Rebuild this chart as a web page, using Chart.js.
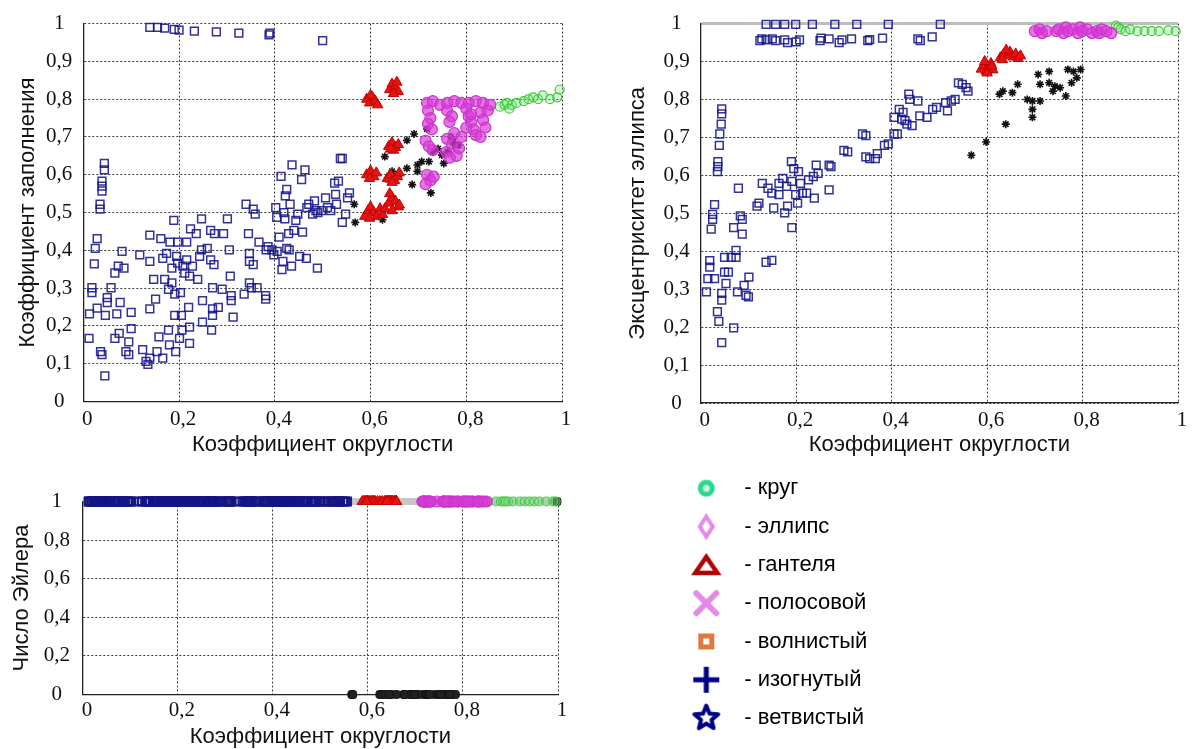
<!DOCTYPE html>
<html lang="ru">
<head>
<meta charset="utf-8">
<title>Признаки формы объектов</title>
<script src="https://cdn.jsdelivr.net/npm/chart.js"></script>
<style>
  html, body { margin: 0; padding: 0; background: #fff; overflow: hidden; }
  body { width: 1192px; height: 749px; position: relative; }
  canvas { position: absolute; }
</style>
</head>
<body>
<canvas id="fillChart" width="590" height="460" style="left:0;top:0"></canvas>
<canvas id="eccChart" width="592" height="460" style="left:600px;top:0"></canvas>
<canvas id="eulerChart" width="590" height="282" style="left:0;top:470px"></canvas>
<canvas id="legendChart" width="500" height="300" style="left:663px;top:461px"></canvas>
<script>
// tick labels
const roundnessTicks = ['0', '0,2', '0,4', '0,6', '0,8', '1'];
const tenthTicks = ['0', '0,1', '0,2', '0,3', '0,4', '0,5', '0,6', '0,7', '0,8', '0,9', '1'];
const eulerTicks = ['0', '0,2', '0,4', '0,6', '0,8', '1'];

// chart 1: [коэффициент округлости, коэффициент заполнения]
const blueFill = [
  [0.139,0.99],[0.155,0.99],[0.17,0.988],[0.19,0.985],[0.2,0.983],[0.232,0.98],[0.278,0.978],[0.325,0.975],[0.388,0.97],[0.39,0.975],[0.5,0.955],
  [0.044,0.63],[0.044,0.613],[0.039,0.583],[0.039,0.57],[0.039,0.557],[0.035,0.522],[0.035,0.509],
  [0.029,0.431],[0.025,0.405],[0.023,0.364],[0.018,0.301],[0.018,0.288],[0.013,0.232],[0.029,0.247],[0.012,0.167],[0.036,0.132],[0.039,0.124],
  [0.045,0.068],[0.046,0.228],[0.05,0.275],[0.05,0.262],[0.058,0.301],[0.066,0.34],[0.073,0.358],[0.081,0.397],[0.085,0.353],[0.07,0.232],
  [0.077,0.262],[0.066,0.167],[0.075,0.18],[0.089,0.132],[0.095,0.124],[0.095,0.158],[0.1,0.193],[0.1,0.236],
  [0.118,0.388],[0.124,0.137],[0.131,0.106],[0.135,0.098],[0.139,0.115],[0.139,0.245],[0.139,0.371],[0.139,0.44],[0.147,0.323],[0.151,0.271],
  [0.154,0.132],[0.158,0.171],[0.162,0.431],[0.166,0.379],[0.166,0.115],[0.17,0.323],[0.174,0.392],[0.178,0.189],[0.178,0.297],[0.18,0.15],
  [0.181,0.422],[0.185,0.353],[0.185,0.314],[0.189,0.479],[0.191,0.228],[0.191,0.284],[0.193,0.132],[0.195,0.384],[0.197,0.366],[0.197,0.422],
  [0.201,0.167],[0.203,0.288],[0.205,0.228],[0.206,0.189],[0.208,0.358],[0.212,0.34],[0.216,0.422],[0.216,0.375],[0.22,0.249],[0.222,0.332],
  [0.222,0.197],[0.222,0.154],[0.224,0.457],[0.228,0.358],[0.236,0.444],[0.239,0.323],[0.243,0.384],[0.247,0.483],[0.247,0.401],[0.249,0.267],
  [0.249,0.21],[0.259,0.405],[0.266,0.453],[0.266,0.375],[0.268,0.189],[0.27,0.245],[0.27,0.301],[0.27,0.228],[0.273,0.362],[0.274,0.444],
  [0.282,0.249],[0.29,0.297],[0.293,0.444],[0.301,0.483],[0.305,0.401],[0.307,0.332],[0.309,0.28],[0.309,0.267],[0.313,0.223],
  [0.336,0.284],[0.34,0.522],[0.345,0.444],[0.347,0.392],[0.347,0.371],[0.347,0.314],[0.351,0.301],[0.355,0.362],[0.355,0.509],[0.359,0.496],
  [0.363,0.301],[0.367,0.422],[0.381,0.271],[0.381,0.28],[0.382,0.401],[0.386,0.41],[0.394,0.401],[0.398,0.388],[0.402,0.513],[0.404,0.487],
  [0.405,0.397],[0.409,0.435],[0.413,0.596],[0.415,0.349],[0.417,0.371],[0.419,0.5],[0.421,0.483],[0.422,0.544],[0.425,0.561],[0.425,0.405],
  [0.429,0.444],[0.43,0.401],[0.432,0.522],[0.435,0.358],[0.436,0.626],[0.44,0.453],[0.444,0.479],[0.448,0.496],[0.452,0.384],[0.456,0.587],
  [0.458,0.448],[0.463,0.613],[0.466,0.379],[0.467,0.513],[0.471,0.522],[0.479,0.496],[0.483,0.531],[0.486,0.505],[0.489,0.353],[0.49,0.5],
  [0.498,0.505],[0.506,0.539],[0.51,0.513],[0.517,0.505],[0.525,0.578],[0.527,0.548],[0.529,0.522],[0.533,0.583],[0.537,0.643],[0.541,0.643],
  [0.541,0.474],[0.548,0.496],[0.552,0.539],[0.556,0.552]
];
const redFill = [
  [0.592,0.8],[0.598,0.79],[0.604,0.805],[0.61,0.795],[0.615,0.785],[0.6,0.81],
  [0.64,0.825],[0.645,0.84],[0.65,0.83],[0.655,0.845],[0.658,0.82],[0.648,0.815],
  [0.638,0.675],[0.645,0.685],[0.652,0.672],[0.658,0.68],[0.648,0.665],[0.642,0.668],
  [0.592,0.6],[0.6,0.61],[0.607,0.595],[0.612,0.605],[0.598,0.59],
  [0.635,0.59],[0.642,0.6],[0.65,0.585],[0.656,0.595],[0.645,0.58],[0.66,0.605],
  [0.588,0.49],[0.595,0.505],[0.6,0.515],[0.607,0.5],[0.613,0.49],[0.62,0.51],[0.598,0.485],[0.625,0.495],
  [0.63,0.51],[0.638,0.525],[0.645,0.54],[0.652,0.53],[0.658,0.515],[0.645,0.505],[0.64,0.55],[0.66,0.52]
];
const magentaFill = [
  [0.718,0.79],[0.73,0.795],[0.745,0.785],[0.76,0.79],[0.775,0.795],[0.79,0.79],[0.805,0.79],[0.82,0.795],[0.835,0.79],[0.85,0.785],
  [0.72,0.77],[0.725,0.75],[0.72,0.735],[0.728,0.72],[0.715,0.69],[0.722,0.675],[0.73,0.665],[0.718,0.6],[0.725,0.585],[0.715,0.575],[0.732,0.595],
  [0.76,0.77],[0.77,0.755],[0.765,0.74],[0.775,0.71],[0.76,0.695],[0.77,0.68],[0.758,0.66],[0.766,0.645],[0.78,0.65],[0.785,0.67],[0.79,0.7],
  [0.8,0.775],[0.805,0.755],[0.81,0.74],[0.815,0.72],[0.82,0.705],[0.83,0.765],[0.835,0.745],[0.84,0.725],[0.845,0.77],[0.83,0.7],[0.8,0.725],[0.81,0.76]
];
const greenFill = [
  [0.87,0.78],[0.88,0.785],[0.885,0.79],[0.895,0.785],[0.905,0.79],[0.92,0.795],[0.93,0.8],[0.94,0.805],
  [0.95,0.8],[0.96,0.81],[0.975,0.8],[0.99,0.805],[0.995,0.825],[0.89,0.775]
];
const blackFill = [
  [0.566,0.522],[0.568,0.474],[0.625,0.481],[0.63,0.648],[0.649,0.678],[0.676,0.691],[0.691,0.708],[0.718,0.721],[0.687,0.574],
  [0.698,0.609],[0.707,0.635],[0.722,0.635],[0.726,0.552],[0.741,0.669],[0.749,0.652],[0.761,0.661],[0.768,0.7],[0.776,0.678],
  [0.784,0.678],[0.698,0.626],[0.676,0.617],[0.66,0.6],[0.73,0.661],[0.753,0.63],[0.772,0.687],[0.637,0.587],[0.645,0.609]
];

// chart 2: [коэффициент округлости, эксцентриситет эллипса]
const blueEcc = [
  [0.137,0.998],[0.157,0.998],[0.176,0.998],[0.199,0.998],[0.234,0.998],[0.281,0.998],[0.327,0.998],[0.393,0.998],[0.502,0.998],
  [0.124,0.955],[0.128,0.96],[0.137,0.957],[0.15,0.96],[0.157,0.955],[0.176,0.957],[0.182,0.95],[0.2,0.952],[0.207,0.957],[0.25,0.955],
  [0.252,0.962],[0.269,0.96],[0.29,0.95],[0.296,0.957],[0.316,0.96],[0.35,0.955],[0.354,0.958],[0.381,0.962],[0.455,0.96],[0.46,0.955],[0.485,0.965],
  [0.044,0.775],[0.044,0.762],[0.043,0.735],[0.04,0.709],[0.039,0.679],[0.036,0.636],[0.036,0.623],[0.035,0.61],[0.029,0.523],[0.025,0.497],
  [0.025,0.484],[0.022,0.458],[0.019,0.375],[0.019,0.358],[0.015,0.328],[0.012,0.293],[0.029,0.328],[0.035,0.241],[0.038,0.215],[0.044,0.289],
  [0.044,0.271],[0.044,0.159],[0.05,0.384],[0.05,0.345],[0.053,0.315],[0.058,0.345],[0.064,0.384],[0.069,0.462],[0.069,0.198],[0.074,0.402],
  [0.074,0.384],[0.079,0.566],[0.077,0.293],[0.083,0.493],[0.087,0.484],[0.087,0.445],[0.091,0.31],[0.095,0.284],[0.1,0.28],[0.101,0.332],
  [0.118,0.519],[0.122,0.527],[0.129,0.579],[0.137,0.371],[0.141,0.566],[0.149,0.376],[0.149,0.553],[0.153,0.514],[0.164,0.549],[0.164,0.579],
  [0.172,0.592],[0.176,0.501],[0.18,0.571],[0.182,0.519],[0.19,0.636],[0.191,0.462],[0.195,0.618],[0.191,0.584],[0.199,0.549],[0.203,0.527],
  [0.205,0.61],[0.209,0.579],[0.213,0.553],[0.222,0.553],[0.226,0.588],[0.236,0.597],[0.238,0.54],[0.242,0.627],[0.246,0.605],[0.269,0.627],
  [0.273,0.623],[0.269,0.562],[0.3,0.666],[0.308,0.662],[0.339,0.709],[0.346,0.705],[0.346,0.649],[0.354,0.644],[0.366,0.644],[0.37,0.657],
  [0.385,0.679],[0.393,0.683],[0.405,0.709],[0.412,0.709],[0.405,0.753],[0.416,0.774],[0.421,0.748],[0.424,0.766],[0.428,0.744],[0.432,0.735],
  [0.436,0.814],[0.438,0.8],[0.443,0.731],[0.455,0.796],[0.459,0.757],[0.474,0.753],[0.486,0.774],[0.494,0.779],[0.513,0.792],[0.517,0.77],
  [0.525,0.796],[0.533,0.8],[0.54,0.844],[0.548,0.84],[0.556,0.831],[0.56,0.822]
];
const redEcc = [
  [0.588,0.88],[0.593,0.89],[0.598,0.875],[0.603,0.885],[0.608,0.895],[0.612,0.878],[0.6,0.87],[0.595,0.9],[0.61,0.888],
  [0.628,0.91],[0.635,0.92],[0.642,0.915],[0.648,0.925],[0.655,0.912],[0.66,0.92],[0.665,0.908],[0.64,0.93],[0.632,0.905],[0.67,0.915]
];
const magentaEcc = [
  [0.70,0.98],[0.71,0.985],[0.715,0.975],[0.725,0.98],[0.745,0.98],[0.75,0.985],[0.76,0.975],[0.765,0.99],[0.77,0.98],[0.78,0.985],
  [0.79,0.975],[0.795,0.99],[0.80,0.98],[0.81,0.985],[0.82,0.975],[0.83,0.98],[0.835,0.975],[0.84,0.985],[0.85,0.98],[0.86,0.975]
];
const greenEcc = [
  [0.87,0.995],[0.875,0.99],[0.88,0.985],[0.89,0.98],[0.9,0.985],[0.915,0.98],[0.93,0.98],[0.945,0.98],[0.96,0.98],[0.98,0.982],[0.995,0.98]
];
const blackEcc = [
  [0.567,0.653],[0.598,0.688],[0.639,0.735],[0.626,0.814],[0.633,0.822],[0.653,0.818],[0.664,0.84],[0.684,0.8],[0.695,0.796],[0.711,0.796],
  [0.695,0.774],[0.695,0.753],[0.707,0.866],[0.73,0.874],[0.73,0.844],[0.742,0.835],[0.753,0.831],[0.765,0.809],[0.777,0.844],[0.781,0.874],
  [0.788,0.857],[0.796,0.879],[0.769,0.879],[0.711,0.84],[0.738,0.822]
];

// chart 3: Euler number of each class (same objects, x from chart 1)
const eulerBlue = 1;
const eulerRed = 1;
const eulerMagenta = 1;
const eulerGreen = 1;
const eulerBlack = 0;
const blackEulerOne = [[0.998, 1]];

// legend
const legendLabels = ['- круг', '- эллипс', '- гантеля', '- полосовой', '- волнистый', '- изогнутый', '- ветвистый'];

const SERIF = "'Liberation Serif', 'Times New Roman', serif";
const SANS = "'Liberation Sans', Arial, sans-serif";

const styles = {
  blue: { pointStyle: 'rect', pointRadius: 5.5, pointBorderWidth: 1.5, pointBorderColor: 'rgba(22,22,140,0.88)', pointBackgroundColor: 'rgba(255,255,255,0)' },
  blueBand: { pointStyle: 'rect', pointRadius: 5.5, pointBorderWidth: 2.2, pointBorderColor: 'rgba(20,20,130,0.95)', pointBackgroundColor: 'rgba(255,255,255,0)' },
  red: { pointStyle: 'triangle', pointRadius: 6, pointBorderWidth: 1, pointBorderColor: '#c80000', pointBackgroundColor: '#e01515' },
  magenta: { pointStyle: 'circle', pointRadius: 5.5, pointBorderWidth: 1.2, pointBorderColor: '#cc33cc', pointBackgroundColor: 'rgba(215,60,215,0.7)' },
  green: { pointStyle: 'circle', pointRadius: 4.5, pointBorderWidth: 1.2, pointBorderColor: '#3ccc3c', pointBackgroundColor: 'rgba(120,230,120,0.3)' },
  black: { pointStyle: 'star', pointRadius: 4, pointBorderWidth: 1.6, pointBorderColor: '#111', pointBackgroundColor: '#111' },
  blackBand: { pointStyle: 'rectRounded', pointRadius: 4.5, pointBorderWidth: 1, pointBorderColor: '#111', pointBackgroundColor: '#222' }
};

function series(points, style) {
  return Object.assign({ data: points.map(p => ({ x: p[0], y: p[1] })), clip: false }, style);
}

function axis(o) {
  return {
    type: 'linear', min: 0, max: 1,
    afterFit: s => { if (s.isHorizontal()) s.height = o.size; else s.width = o.size; },
    ticks: {
      stepSize: o.step, autoSkip: false, padding: o.pad,
      crossAlign: o.crossAlign || 'near', labelOffset: o.labelOffset || 0,
      font: { family: SERIF, size: 21 }, color: '#111',
      callback: (v, i) => o.labels[i]
    },
    grid: {
      drawTicks: false,
      color: c => (o.band && c.tick && c.tick.value === 1) ? o.band.color : '#3a3a3a',
      lineWidth: c => (o.band && c.tick && c.tick.value === 1) ? o.band.width : 1
    },
    border: {
      color: '#222', width: 1.3,
      dash: c => (o.band && c.tick && c.tick.value === 1) ? [] : [2, 2]
    },
    title: { display: true, text: o.title, padding: 0, font: { family: SANS, size: 22 }, color: '#111' }
  };
}

function plot(id, datasets, padding, x, y) {
  return new Chart(document.getElementById(id), {
    type: 'scatter',
    data: { datasets },
    options: {
      responsive: false, animation: false, events: [],
      layout: { padding },
      plugins: { legend: { display: false }, tooltip: { enabled: false } },
      scales: { x: axis(x), y: axis(y) }
    }
  });
}

const xTitle = 'Коэффициент округлости';

plot('fillChart', [
  series(blueFill, styles.blue), series(redFill, styles.red), series(magentaFill, styles.magenta),
  series(greenFill, styles.green), series(blackFill, styles.black)
], { left: 15, right: 28, top: 19, bottom: 2 },
  { size: 56.5, step: 0.2, labels: roundnessTicks, pad: 5, labelOffset: 4, title: xTitle },
  { size: 68.3, step: 0.1, labels: tenthTicks, pad: 11, crossAlign: 'center', title: 'Коэффициент заполнения' });

plot('eccChart', [
  series(blueEcc, styles.blue), series(redEcc, styles.red), series(magentaEcc, styles.magenta),
  series(greenEcc, styles.green), series(blackEcc, styles.black)
], { left: 25, right: 14, top: 20, bottom: 2 },
  { size: 55, step: 0.2, labels: roundnessTicks, pad: 5, labelOffset: 4, title: xTitle },
  { size: 75.7, step: 0.1, labels: tenthTicks, pad: 11, crossAlign: 'center', title: 'Эксцентриситет эллипса', band: { color: '#bdbdbd', width: 3 } });

const euler = (points, value) => points.map(p => [p[0], value]);
plot('eulerChart', [
  series(euler(blueFill, eulerBlue), styles.blueBand), series(euler(redFill, eulerRed), styles.red),
  series(euler(magentaFill, eulerMagenta), styles.magenta), series(euler(greenFill, eulerGreen), styles.green),
  series(euler(blackFill, eulerBlack), styles.blackBand), series(blackEulerOne, styles.blackBand)
], { left: 9, right: 32, top: 31.5, bottom: 1.8 },
  { size: 55.7, step: 0.2, labels: roundnessTicks, pad: 3, labelOffset: 4, title: xTitle },
  { size: 73.9, step: 0.2, labels: eulerTicks, pad: 13, crossAlign: 'center', title: 'Число Эйлера', band: { color: '#c6c6c6', width: 7 } });

// legend markers
function marker(draw) {
  const c = document.createElement('canvas');
  c.width = 34; c.height = 34;
  const g = c.getContext('2d');
  g.translate(17, 17);
  draw(g);
  return c;
}
const legendMarkers = [
  marker(g => { g.beginPath(); g.arc(0, 0, 6, 0, Math.PI * 2); g.fillStyle = '#c4f5de'; g.fill(); g.lineWidth = 5; g.strokeStyle = '#27d98c'; g.stroke(); }),
  marker(g => { g.beginPath(); g.moveTo(0, -10); g.lineTo(6.5, 0); g.lineTo(0, 10); g.lineTo(-6.5, 0); g.closePath(); g.lineWidth = 4; g.strokeStyle = '#e38ae8'; g.stroke(); }),
  marker(g => { g.beginPath(); g.moveTo(0, -8); g.lineTo(11, 8); g.lineTo(-11, 8); g.closePath(); g.lineWidth = 4.5; g.strokeStyle = '#b00000'; g.stroke(); }),
  marker(g => { g.beginPath(); g.moveTo(-10, -10); g.lineTo(10, 10); g.moveTo(10, -10); g.lineTo(-10, 10); g.lineWidth = 6; g.lineCap = 'round'; g.strokeStyle = '#e38ae8'; g.stroke(); }),
  marker(g => { g.fillStyle = '#e07a3c'; g.fillRect(-8, -8, 16, 16); g.fillStyle = '#fff'; g.fillRect(-3, -3, 6, 6); }),
  marker(g => { g.beginPath(); g.moveTo(-13, 0); g.lineTo(13, 0); g.moveTo(0, -13); g.lineTo(0, 13); g.lineWidth = 5; g.strokeStyle = '#000088'; g.stroke(); }),
  marker(g => {
    g.beginPath();
    for (let k = 0; k < 10; k++) {
      const a = -Math.PI / 2 + k * Math.PI / 5, r = k % 2 ? 5.5 : 12.5;
      g.lineTo(Math.cos(a) * r, Math.sin(a) * r);
    }
    g.closePath(); g.fillStyle = '#fff'; g.fill();
    g.lineWidth = 4; g.lineJoin = 'round'; g.strokeStyle = '#000088'; g.stroke();
  })
];

new Chart(document.getElementById('legendChart'), {
  type: 'scatter',
  data: { datasets: [] },
  options: {
    responsive: false, animation: false, events: [],
    scales: { x: { display: false }, y: { display: false } },
    plugins: {
      tooltip: { enabled: false },
      legend: {
        position: 'left', align: 'start', maxWidth: 400,
        labels: {
          usePointStyle: true, pointStyleWidth: 54, boxHeight: 22, padding: 16.3,
          font: { family: SANS, size: 22 }, color: '#111',
          generateLabels: () => legendLabels.map((text, i) => ({
            text, pointStyle: legendMarkers[i], fillStyle: 'transparent',
            strokeStyle: 'transparent', lineWidth: 0, hidden: false, datasetIndex: i
          }))
        }
      }
    }
  }
});
</script>
</body>
</html>
